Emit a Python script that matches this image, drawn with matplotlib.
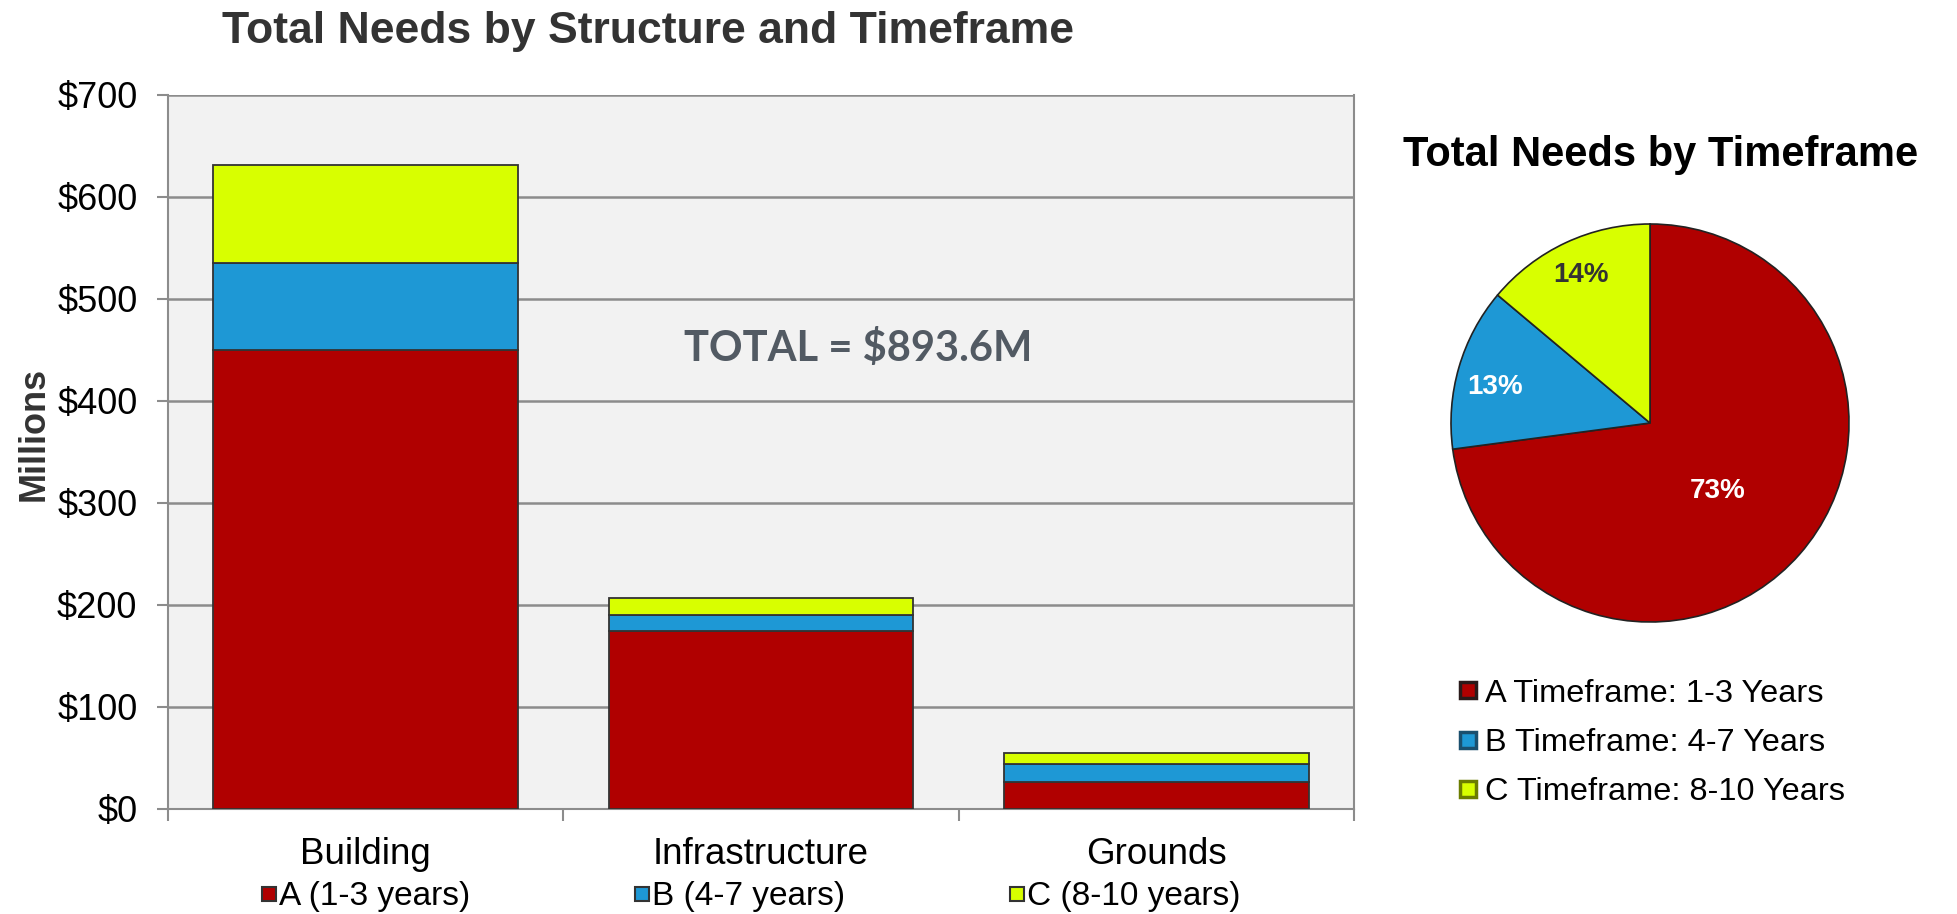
import numpy as np
import matplotlib
matplotlib.use('Agg')
import matplotlib.pyplot as plt
from matplotlib.lines import Line2D

plt.rcParams['font.family'] = ['Liberation Sans', 'DejaVu Sans']

# data
categories = ['Building', 'Infrastructure', 'Grounds']
a_vals = [450, 175, 26]   # A (1-3 years)
b_vals = [85, 15, 18]     # B (4-7 years)
c_vals = [96, 17, 11]     # C (8-10 years)
bar_labels = ['A (1-3 years)', 'B (4-7 years)', 'C (8-10 years)']
pie_labels = ['A Timeframe: 1-3 Years', 'B Timeframe: 4-7 Years', 'C Timeframe: 8-10 Years']
yticks = [0, 100, 200, 300, 400, 500, 600, 700]

colors = ['#b00000', '#1e98d5', '#d8ff00']
edges = ['#2a1a1a', '#1a4f6e', '#6b7d00']

W, H = 1957, 914
fig = plt.figure(figsize=(W / 100, H / 100), dpi=100)

# ---- stacked bars ----
ax = fig.add_axes([168 / W, 1 - 809 / H, 1186 / W, 714 / H])
ax.set_facecolor('#f2f2f2')
x = np.arange(len(categories))
bw = 0.77
a = np.array(a_vals); b = np.array(b_vals); c = np.array(c_vals)
ax.bar(x, a, bw, color=colors[0], edgecolor='#333333', linewidth=1.3, zorder=3)
ax.bar(x, b, bw, bottom=a, color=colors[1], edgecolor='#333333', linewidth=1.3, zorder=3)
ax.bar(x, c, bw, bottom=a + b, color=colors[2], edgecolor='#333333', linewidth=1.3, zorder=3)

ax.set_xlim(-0.5, len(categories) - 0.5)
ax.set_ylim(0, 700)
ax.set_yticks(yticks)
ax.set_yticklabels(['$%d' % v for v in yticks])
ax.yaxis.grid(True, color='#8c8c8c', linewidth=1.8, zorder=0)
ax.set_axisbelow(True)
for s in ax.spines.values():
    s.set_color('#8c8c8c')
    s.set_linewidth(1.5)
ax.spines['top'].set_visible(False)

ax.set_xticks(np.arange(len(categories) + 1) - 0.5)
ax.set_xticklabels([])
ax.set_xticks(x, minor=True)
ax.set_xticklabels(categories, minor=True)
ax.tick_params(axis='x', which='major', length=8.5, color='#8c8c8c', width=1.5)
ax.tick_params(axis='x', which='minor', length=0, labelsize=26.5, pad=20)
ax.tick_params(axis='y', length=8, color='#8c8c8c', width=1.5, labelsize=26, pad=14)

ax.text(0.582, 0.645, 'TOTAL = $893.6M', transform=ax.transAxes, ha='center', va='center',
        fontsize=30, fontweight='bold', color='#525a63', family=['Lato', 'DejaVu Sans'])

fig.text(648 / W, 1 - 31 / H, 'Total Needs by Structure and Timeframe', ha='center', va='center',
         fontsize=32, fontweight='bold', color='#333333')
fig.text(34 / W, 1 - 434 / H, 'Millions', rotation=90, ha='center', va='center',
         fontsize=26, fontweight='bold', color='#333333')

handles = [Line2D([], [], marker='s', linestyle='none', markersize=10.5,
                  markerfacecolor=colors[i], markeredgecolor='#333333', markeredgewidth=1.5)
           for i in range(3)]
fig.legend(handles, bar_labels, loc='center left', bbox_to_anchor=(259 / W, 1 - 897 / H),
           ncol=3, frameon=False, fontsize=24, handlelength=0.6, handletextpad=0.0,
           columnspacing=4.85, borderpad=0, borderaxespad=0)

# ---- pie ----
totals = [sum(a_vals), sum(b_vals), sum(c_vals)]
pax = fig.add_axes([(1650 - 199) / W, 1 - (423 + 199) / H, 398 / W, 398 / H])
wedges, _ = pax.pie(totals, colors=colors, startangle=90, counterclock=False,
                    wedgeprops=dict(edgecolor='#222222', linewidth=1.2))
pax.set_xlim(-1, 1)
pax.set_ylim(-1, 1)
label_dist = [0.48, 0.80, 0.82]
label_turn = [-4, 3, 0]
label_col = ['white', 'white', '#333333']
tot = sum(totals)
for w, v, d, t, col in zip(wedges, totals, label_dist, label_turn, label_col):
    ang = np.deg2rad((w.theta1 + w.theta2) / 2 + t)
    pax.text(d * np.cos(ang), d * np.sin(ang), '%d%%' % round(100 * v / tot),
             ha='center', va='center', fontsize=20, fontweight='bold', color=col)

fig.text(1661 / W, 1 - 155 / H, 'Total Needs by Timeframe', ha='center', va='center',
         fontsize=30, fontweight='bold', color='black')

phandles = [Line2D([], [], marker='s', linestyle='none', markersize=12,
                   markerfacecolor=colors[i], markeredgecolor=edges[i], markeredgewidth=2.5)
            for i in range(3)]
fig.legend(phandles, pie_labels, loc='center left', bbox_to_anchor=(1458.3 / W, 1 - 743 / H),
           frameon=False, fontsize=23.4, handlelength=0.6, handletextpad=0.22,
           labelspacing=0.6, borderpad=0, borderaxespad=0)

fig.savefig('out.png', dpi=100, facecolor='white')
